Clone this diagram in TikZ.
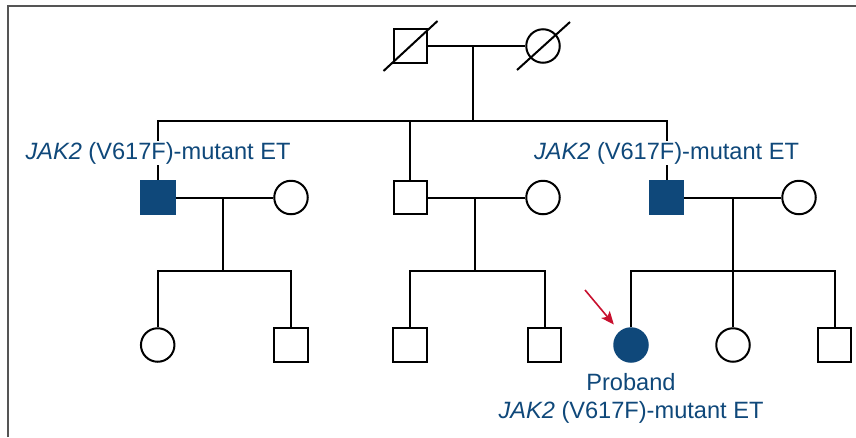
\documentclass[tikz,border=0pt]{standalone}
\usepackage{fontspec}
\setmainfont{Liberation Sans}
\usepackage{xcolor}
\usepackage{tikz}
\usetikzlibrary{arrows.meta}
\definecolor{etblue}{RGB}{15,72,122}
\definecolor{arrowred}{RGB}{200,16,46}
\definecolor{framegray}{RGB}{85,85,85}
\tikzstyle{male} = [rectangle, minimum width=33.5pt, minimum height=33.5pt, inner sep=0pt, draw=black, fill=white]
\tikzstyle{female} = [circle, minimum size=33.5pt, inner sep=0pt, draw=black, fill=white]
\tikzstyle{affected} = [draw=etblue, fill=etblue]
\tikzstyle{etlabel} = [text=etblue, fill=white, inner sep=1pt, font=\fontsize{23.6}{27.7}\selectfont]
\tikzstyle{line} = [draw=black, line width=2pt]
\tikzstyle{pointer} = [-{Stealth[length=13pt, width=11pt, inset=3pt]}, draw=arrowred, line width=1.6pt, shorten >=9pt]

\begin{document}
\begin{tikzpicture}[x=1pt, y=-1pt, line width=2pt]
        \useasboundingbox (0,0) rectangle (856,437);
        \draw [framegray, line width=1.6pt] (8,437) -- (8,6) -- (856,6);

        % generation I
        \node[male](gf) at (410.5,46){};
        \node[female](gm) at (543,46){};
        \draw (gf.center) ++(-27,25) -- ++(54,-50);
        \draw (gm.center) ++(-26,24) -- ++(53,-48);
        \coordinate (m0) at (473,46);
        \coordinate (sib0) at (473,120.7);

        % generation II
        \node[male,affected](s1) at (158,197.5){};
        \node[female](w1) at (291,197.5){};
        \node[male](s2) at (410.3,197.5){};
        \node[female](w2) at (543,197.5){};
        \node[male,affected](s3) at (666.5,197.5){};
        \node[female](w3) at (799,197.5){};
        \coordinate (m1) at (223,197.5);
        \coordinate (sib1) at (223,270.7);
        \coordinate (m2) at (475,197.5);
        \coordinate (sib2) at (475,270.7);
        \coordinate (m3) at (733,197.5);
        \coordinate (sib3) at (733,270.7);

        % generation III
        \node[female](c11) at (157.7,345){};
        \node[male](c12) at (290.8,345){};
        \node[male](c21) at (410.2,345){};
        \node[male](c22) at (544.5,345){};
        \node[female,affected](c31) at (631,345){};
        \node[female](c32) at (733,345){};
        \node[male](c33) at (834.5,345){};

        \draw [line] (gf) -- (gm);
        \draw [line] (m0) -- (sib0);
        \draw [line] (s1) |- (sib0) -| (s3);
        \draw [line] (s2) -- (s2 |- sib0);
        \draw [line] (s1) -- (w1);
        \draw [line] (s2) -- (w2);
        \draw [line] (s3) -- (w3);
        \draw [line] (m1) -- (sib1);
        \draw [line] (m2) -- (sib2);
        \draw [line] (m3) -- (c32);
        \draw [line] (c11) |- (sib1) -| (c12);
        \draw [line] (c21) |- (sib2) -| (c22);
        \draw [line] (c31) |- (sib3) -| (c33);

        \node[etlabel](lab1) at (158,153){\textit{JAK2} (V617F)-mutant ET};
        \node[etlabel](lab3) at (666.5,153){\textit{JAK2} (V617F)-mutant ET};
        \node[etlabel,align=center,anchor=north](plab) at (631,371.5){Proband\\\textit{JAK2} (V617F)-mutant ET};

        \coordinate (arrtail) at (585,290);
        \draw [pointer] (arrtail) -- (c31);
    \end{tikzpicture}
\end{document}
